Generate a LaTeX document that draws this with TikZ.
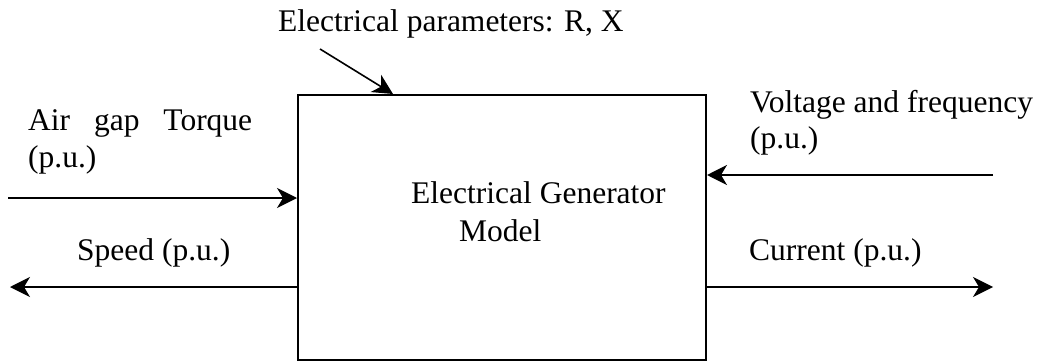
\documentclass[tikz,border=0pt]{standalone}
\usepackage{fontspec}
\setmainfont{Liberation Serif}
\usetikzlibrary{arrows.meta,calc}
\begin{document}
\begin{tikzpicture}[x=1pt,y=-1pt,
  txt/.style={anchor=base west,inner sep=0pt,font=\fontsize{31.5}{36}\selectfont},
  arr/.style={line width=1.6pt,-{Stealth[length=20pt,width=20pt,inset=6pt]}},
  boxst/.style={draw,line width=2pt,inner sep=0pt,anchor=north west,minimum width=408pt,minimum height=265pt}]
\useasboundingbox (0,0) rectangle (1047,361);
\node[boxst] (box) at (297,94) {};
\node[txt] (gen1) at (411,203) {Electrical Generator};
\node[txt] (gen2) at (459,241) {Model};
\node[txt] (par) at (278,32) {Electrical parameters: R, X};
\node[txt] (air) at (28,130) {\hbox to 224pt{Air\hfill gap\hfill Torque}};
\node[txt] (airpu) at (28,167) {(p.u.)};
\node[txt] (speed) at (77,260) {Speed (p.u.)};
\node[txt] (volt) at (750,112) {Voltage and frequency};
\node[txt] (voltpu) at (750,148) {(p.u.)};
\node[txt] (cur) at (749,260) {Current (p.u.)};
\coordinate (pstart) at (320,49);
\coordinate (pend) at (393,94);
\coordinate (inL) at (8,198);
\coordinate (outL) at (10,287);
\coordinate (inR) at (993,175);
\coordinate (outR) at (993,287);
\draw[arr] (pstart) -- (pend);
\draw[arr] (inL) -- (box.west |- inL);
\draw[arr] (box.west |- outL) -- (outL);
\draw[arr] (inR) -- (box.east |- inR);
\draw[arr] (box.east |- outR) -- (outR);
\end{tikzpicture}
\end{document}
